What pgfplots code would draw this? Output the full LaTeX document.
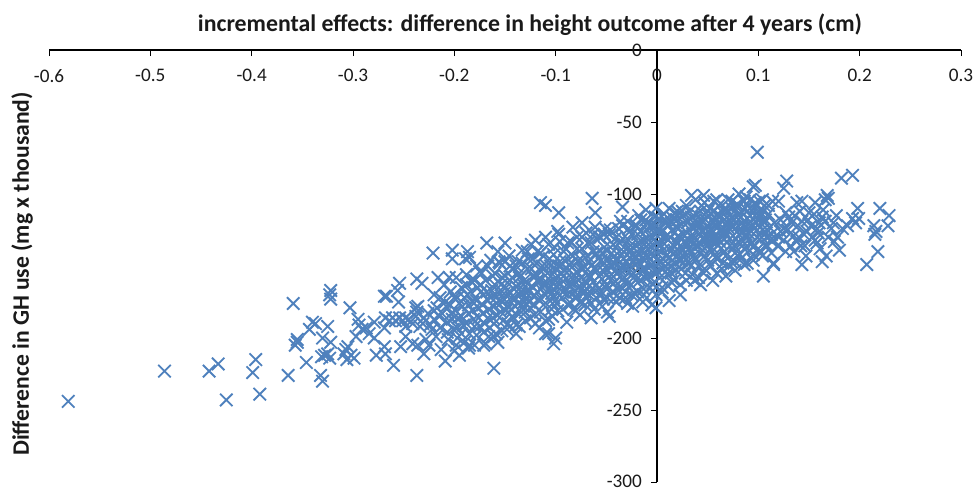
\documentclass[border=0pt]{standalone}
\usepackage{pgfplots}
\pgfplotsset{compat=1.18}
\usepackage{fontspec}
\setmainfont{Carlito}
\definecolor{mk}{HTML}{4F81BD}
\definecolor{tx}{HTML}{1A1A1A}
\pgfplotstableread{
x y
-0.581 -244
-0.486 -223
-0.442 -223
-0.433 -218
-0.425 -243
-0.399 -224
-0.396 -215
-0.392 -239
-0.364 -226
-0.359 -176
-0.346 -217
-0.355 -203
-0.357 -205
-0.355 -201
-0.322 -167
-0.322 -173
-0.323 -170
-0.303 -179
-0.340 -189
-0.337 -190
-0.343 -194
-0.325 -192
-0.330 -200
-0.322 -203
-0.328 -212
-0.331 -213
-0.325 -211
-0.323 -214
-0.332 -226
-0.330 -230
-0.307 -208
-0.305 -206
-0.309 -211
-0.302 -212
-0.306 -215
-0.299 -214
-0.295 -187
-0.294 -191
-0.297 -199
-0.291 -194
-0.287 -193
-0.279 -189
-0.284 -197
-0.277 -212
-0.269 -206
-0.268 -211
-0.260 -219
-0.279 -200
-0.269 -171
-0.267 -171
-0.254 -162
-0.256 -167
-0.255 -175
-0.237 -159
-0.232 -162
-0.221 -141
-0.237 -226
-0.253 -206
-0.268 -186
-0.264 -188
-0.261 -186
-0.258 -188
-0.254 -186
-0.251 -188
-0.248 -186
-0.269 -193
-0.248 -192
-0.248 -199
-0.241 -204
-0.236 -205
-0.230 -211
-0.238 -179
-0.236 -178
-0.237 -182
-0.220 -170
-0.231 -190
-0.220 -181
-0.222 -194
-0.218 -199
-0.225 -205
-0.228 -201
-0.202 -139
-0.202 -145
-0.187 -140
-0.189 -145
-0.185 -144
-0.168 -134
-0.150 -134
-0.157 -140
-0.161 -221
-0.209 -216
-0.186 -207
-0.197 -200
-0.115 -106
-0.110 -108
-0.097 -113
-0.064 -103
-0.034 -109
-0.061 -113
-0.098 -126
-0.100 -200
-0.107 -197
-0.102 -204
-0.120 -132
-0.083 -123
-0.074 -120
-0.051 -124
-0.036 -119
-0.018 -115
-0.011 -111
-0.001 -110
0.012 -110
0.018 -113
-0.047 -185
-0.065 -186
-0.080 -181
-0.029 -176
-0.014 -175
-0.024 -178
-0.103 -185
-0.139 -197
-0.110 -197
-0.161 -199
-0.169 -204
-0.005 -177
-0.001 -179
-0.001 -170
0.012 -174
0.043 -163
0.034 -101
0.046 -101
0.059 -104
0.081 -100
0.095 -95
0.097 -94
0.099 -71
0.105 -157
0.115 -148
0.128 -91
0.125 -96
0.182 -89
0.193 -87
0.198 -110
0.220 -110
0.229 -115
0.228 -122
0.214 -122
0.216 -126
0.215 -128
0.218 -140
0.207 -149
0.180 -139
0.163 -147
0.167 -143
0.143 -149
0.147 -143
0.115 -149
0.199 -117
0.196 -120
0.193 -117
0.183 -124
0.188 -122
0.178 -130
0.175 -133
0.168 -101
0.169 -103
0.166 -104
0.156 -106
0.143 -105
0.138 -106
0.163 -116
0.166 -119
0.160 -120
0.153 -130
0.156 -132
0.158 -134
0.140 -130
0.138 -133
0.133 -120
0.130 -116
0.127 -113
0.120 -105
0.114 -105
0.120 -130
0.127 -140
0.115 -132
0.135 -129
0.143 -119
0.148 -126
0.164 -111
0.150 -113
0.141 -112
0.172 -124
0.158 -124
0.146 -136
0.135 -140
0.125 -124
0.122 -118
-0.216 -158
-0.214 -172
-0.215 -185
-0.213 -208
-0.210 -163
-0.208 -178
-0.207 -189
-0.206 -201
-0.204 -168
-0.203 -183
-0.201 -194
-0.200 -209
-0.198 -158
-0.197 -172
-0.196 -186
-0.195 -212
-0.193 -165
-0.192 -178
-0.191 -191
-0.190 -203
-0.188 -156
-0.187 -170
-0.186 -183
-0.185 -197
-0.183 -161
-0.182 -175
-0.181 -187
-0.180 -205
-0.178 -150
-0.177 -165
-0.176 -179
-0.175 -192
-0.174 -168
-0.173 -155
-0.172 -183
-0.171 -196
-0.169 -160
-0.168 -173
-0.167 -186
-0.166 -199
-0.164 -146
-0.163 -167
-0.162 -178
-0.161 -190
-0.160 -155
-0.159 -172
-0.158 -184
-0.157 -203
-0.155 -148
-0.154 -163
-0.153 -175
-0.152 -188
-0.151 -169
-0.150 -157
-0.149 -181
-0.148 -194
-0.146 -143
-0.145 -160
-0.144 -172
-0.143 -185
-0.142 -152
-0.141 -166
-0.140 -178
-0.139 -191
-0.137 -147
-0.136 -158
-0.135 -170
-0.134 -182
-0.133 -139
-0.132 -163
-0.131 -175
-0.130 -188
-0.128 -152
-0.127 -145
-0.126 -167
-0.125 -179
-0.124 -135
-0.123 -157
-0.122 -171
-0.121 -184
-0.119 -148
-0.118 -160
-0.117 -173
-0.116 -193
-0.115 -141
-0.114 -154
-0.113 -165
-0.112 -177
-0.110 -130
-0.109 -150
-0.108 -162
-0.107 -187
-0.106 -145
-0.105 -157
-0.104 -169
-0.103 -176
-0.101 -137
-0.100 -152
-0.099 -164
-0.098 -181
-0.097 -128
-0.096 -147
-0.095 -159
-0.094 -172
-0.092 -140
-0.091 -153
-0.090 -166
-0.089 -189
-0.088 -134
-0.087 -149
-0.086 -161
-0.085 -176
-0.083 -143
-0.082 -156
-0.081 -168
-0.080 -171
-0.079 -130
-0.078 -147
-0.077 -160
-0.076 -184
-0.074 -138
-0.073 -152
-0.072 -164
-0.071 -177
-0.070 -127
-0.069 -143
-0.068 -156
-0.067 -170
-0.065 -134
-0.064 -149
-0.063 -161
-0.062 -180
-0.061 -123
-0.060 -141
-0.059 -153
-0.058 -166
-0.056 -130
-0.055 -146
-0.054 -159
-0.053 -173
-0.052 -137
-0.051 -151
-0.050 -163
-0.049 -182
-0.047 -128
-0.046 -142
-0.045 -156
-0.044 -168
-0.043 -135
-0.042 -148
-0.041 -161
-0.040 -175
-0.038 -124
-0.037 -140
-0.036 -153
-0.035 -165
-0.034 -131
-0.033 -145
-0.032 -158
-0.031 -172
-0.029 -119
-0.028 -137
-0.027 -150
-0.026 -163
-0.025 -128
-0.024 -143
-0.023 -155
-0.022 -169
-0.020 -122
-0.019 -134
-0.018 -147
-0.017 -160
-0.016 -126
-0.015 -140
-0.014 -152
-0.013 -166
-0.011 -118
-0.010 -131
-0.009 -144
-0.008 -157
-0.007 -122
-0.006 -137
-0.005 -149
-0.004 -162
-0.002 -116
-0.001 -128
0.000 -141
0.001 -154
0.002 -124
0.003 -135
0.004 -147
0.005 -165
0.007 -114
0.008 -130
0.009 -143
0.010 -156
0.011 -121
0.012 -138
0.013 -150
0.014 -161
0.016 -117
0.017 -127
0.018 -140
0.019 -153
0.020 -123
0.021 -134
0.022 -146
0.023 -170
0.025 -112
0.026 -128
0.027 -141
0.028 -155
0.029 -108
0.030 -120
0.031 -135
0.032 -148
0.034 -116
0.035 -130
0.036 -143
0.037 -160
0.038 -104
0.039 -122
0.040 -136
0.041 -150
0.043 -112
0.044 -126
0.045 -139
0.046 -155
0.047 -106
0.048 -118
0.049 -132
0.050 -146
0.052 -110
0.053 -124
0.054 -137
0.055 -160
0.056 -105
0.057 -116
0.058 -129
0.059 -143
0.061 -108
0.062 -121
0.063 -134
0.064 -152
0.065 -113
0.066 -126
0.067 -140
0.068 -157
0.070 -104
0.071 -118
0.072 -131
0.073 -147
0.074 -110
0.075 -123
0.076 -136
0.077 -153
0.079 -107
0.080 -115
0.081 -128
0.082 -142
0.083 -112
0.084 -120
0.085 -133
0.086 -149
0.088 -102
0.089 -117
0.090 -127
0.091 -139
0.092 -110
0.093 -122
0.094 -134
0.095 -146
0.097 -106
0.098 -116
0.099 -125
0.100 -138
0.101 -112
0.102 -120
0.103 -130
0.104 -143
0.106 -108
0.107 -118
0.108 -127
0.109 -136
0.110 -114
0.111 -123
0.112 -132
0.113 -141
}\ptsA
\pgfplotstableread{
x y
-0.245 -187
-0.241 -190
-0.238 -185
-0.234 -192
-0.230 -186
-0.226 -183
-0.224 -191
-0.220 -187
-0.217 -179
-0.214 -193
-0.212 -183
-0.209 -175
-0.207 -196
-0.204 -177
-0.202 -187
-0.199 -181
-0.197 -193
-0.195 -176
-0.193 -185
-0.190 -172
-0.188 -190
-0.186 -177
-0.184 -168
-0.182 -181
-0.180 -192
-0.178 -174
-0.176 -186
-0.174 -163
-0.172 -177
-0.170 -190
-0.168 -168
-0.166 -180
-0.164 -172
-0.162 -186
-0.160 -163
-0.158 -176
-0.156 -168
-0.154 -182
-0.153 -158
-0.151 -173
-0.149 -165
-0.147 -178
-0.146 -168
-0.144 -180
-0.143 -158
-0.141 -172
-0.139 -164
-0.137 -176
-0.136 -155
-0.134 -168
-0.132 -178
-0.131 -160
-0.129 -172
-0.127 -162
-0.126 -175
-0.124 -152
-0.122 -165
-0.121 -177
-0.119 -156
-0.118 -168
-0.116 -160
-0.114 -173
-0.113 -150
-0.111 -162
-0.110 -170
-0.108 -155
-0.107 -166
-0.105 -150
-0.103 -162
-0.102 -172
-0.100 -158
-0.099 -168
-0.097 -150
-0.096 -163
-0.094 -155
-0.093 -168
-0.091 -146
-0.090 -159
-0.088 -170
-0.087 -153
-0.085 -164
-0.084 -148
-0.082 -160
-0.081 -172
-0.079 -154
-0.078 -165
-0.076 -145
-0.075 -158
-0.073 -168
-0.072 -150
-0.070 -161
-0.069 -172
-0.067 -147
-0.066 -157
-0.064 -166
-0.063 -140
-0.061 -152
-0.060 -163
-0.058 -145
-0.057 -157
-0.055 -170
-0.054 -141
-0.052 -154
-0.051 -165
-0.049 -146
-0.048 -158
-0.046 -137
-0.045 -150
-0.043 -162
-0.042 -143
-0.040 -155
-0.039 -166
-0.037 -134
-0.036 -147
-0.034 -159
-0.033 -140
-0.031 -152
-0.030 -163
-0.028 -132
-0.027 -144
-0.025 -156
-0.024 -137
-0.022 -149
-0.021 -160
-0.019 -128
-0.018 -141
-0.016 -153
-0.015 -133
-0.013 -146
-0.012 -158
-0.010 -125
-0.009 -138
-0.007 -150
-0.006 -130
-0.004 -143
-0.003 -155
-0.001 -122
0.000 -134
0.002 -147
0.003 -158
0.005 -126
0.006 -139
0.008 -150
0.009 -120
0.011 -132
0.012 -144
0.014 -155
0.015 -125
0.017 -136
0.018 -148
0.020 -118
0.021 -129
0.023 -141
0.024 -152
0.026 -120
0.027 -133
0.029 -145
0.030 -127
0.032 -138
0.033 -150
0.035 -122
0.036 -134
0.038 -146
0.039 -114
0.041 -128
0.042 -141
0.044 -119
0.045 -131
0.047 -143
0.048 -124
0.050 -136
0.051 -115
0.053 -128
0.054 -140
0.056 -120
0.057 -133
0.059 -145
0.060 -114
0.062 -126
0.063 -138
0.065 -119
0.066 -131
0.068 -143
0.069 -112
0.071 -124
0.072 -136
0.074 -117
0.075 -129
0.077 -141
0.078 -111
0.080 -122
0.081 -134
0.083 -116
0.084 -127
0.086 -138
0.087 -110
0.089 -121
0.090 -132
0.092 -115
0.093 -126
0.095 -137
0.096 -110
0.098 -120
0.099 -130
0.101 -105
0.102 -116
0.104 -125
0.105 -112
0.106 -120
0.108 -130
-0.130 -168
-0.115 -166
-0.095 -150
-0.075 -152
-0.065 -150
-0.052 -148
-0.040 -145
-0.030 -147
-0.020 -144
-0.010 -142
0.000 -138
0.006 -145
0.016 -142
0.025 -138
0.035 -128
0.045 -125
0.055 -130
0.065 -125
0.075 -122
0.085 -122
-0.044 -150
-0.034 -152
-0.026 -140
-0.017 -138
-0.008 -135
0.003 -128
0.013 -130
0.022 -130
0.031 -132
0.040 -120
0.049 -130
0.058 -122
0.067 -128
0.076 -118
0.088 -128
-0.012 -152
-0.003 -148
0.006 -152
0.015 -146
0.024 -146
0.033 -140
0.043 -135
0.052 -132
0.061 -132
0.070 -120
}\ptsB
\pgfplotstableread{
x y
-0.205 -158
-0.200 -172
-0.198 -205
-0.193 -197
-0.188 -163
-0.185 -205
-0.180 -160
-0.178 -198
-0.175 -154
-0.171 -205
-0.167 -150
-0.165 -193
-0.162 -157
-0.159 -197
-0.156 -147
-0.153 -195
-0.150 -147
-0.147 -190
-0.145 -150
-0.142 -186
-0.139 -150
-0.136 -192
-0.133 -148
-0.130 -182
-0.128 -140
-0.125 -186
-0.123 -145
-0.120 -190
-0.118 -140
-0.115 -182
-0.112 -143
-0.110 -188
-0.107 -135
-0.104 -180
-0.102 -142
-0.099 -176
-0.096 -133
-0.093 -180
-0.090 -138
-0.088 -177
-0.085 -133
-0.082 -180
-0.079 -138
-0.076 -175
-0.074 -130
-0.071 -168
-0.068 -134
-0.065 -176
-0.063 -128
-0.060 -172
-0.057 -130
-0.054 -178
-0.052 -128
-0.049 -172
-0.046 -125
-0.043 -173
-0.040 -130
-0.037 -172
-0.034 -122
-0.031 -168
-0.028 -124
-0.025 -170
-0.022 -122
-0.019 -168
-0.016 -118
-0.013 -170
-0.010 -120
-0.007 -165
-0.004 -122
-0.001 -165
0.002 -117
0.005 -168
0.008 -118
0.011 -164
0.014 -120
0.017 -160
0.020 -112
0.023 -163
0.026 -115
0.029 -160
0.032 -112
0.035 -156
0.038 -118
0.041 -158
0.044 -108
0.047 -152
0.050 -112
0.053 -150
0.056 -112
0.059 -155
0.062 -115
0.065 -148
0.068 -110
0.071 -150
0.074 -105
0.077 -147
0.080 -108
0.083 -145
0.086 -105
0.089 -148
0.092 -104
0.095 -142
0.098 -108
0.101 -140
0.104 -104
0.107 -136
0.110 -108
0.113 -128
0.116 -120
0.119 -136
0.122 -126
0.125 -132
0.129 -125
0.132 -136
0.136 -115
0.139 -122
0.142 -136
0.145 -128
0.149 -118
0.152 -122
0.155 -114
0.159 -127
0.161 -138
0.169 -130
0.174 -120
0.177 -115
}\ptsC
\begin{document}
\begin{tikzpicture}[x=1pt,y=1pt]
\path[use as bounding box] (-24.5,-3) rectangle (462.5,241);
\begin{axis}[
  at={(0,0)},anchor=south west,
  scale only axis,width=456pt,height=216pt,
  xmin=-0.6,xmax=0.3,ymin=-300,ymax=0,
  axis lines=middle,
  axis line style={-,black,line width=0.8pt},
  hide obscured x ticks=false,hide obscured y ticks=false,
  xtick={-0.6,-0.5,-0.4,-0.3,-0.2,-0.1,0,0.1,0.2,0.3},
  ytick={0,-50,-100,-150,-200,-250,-300},
  xticklabels={-0.6,-0.5,-0.4,-0.3,-0.2,-0.1,0,0.1,0.2,0.3},
  yticklabels={0,-50,-100,-150,-200,-250,\raisebox{1pt}{-300}},
  tick style={black,line width=0.4pt},
  major tick length=3pt,
  tick align=outside,
  xticklabel style={font=\fontsize{9.6}{11}\selectfont,text=tx,anchor=north,yshift=-3.2pt},
  yticklabel style={font=\fontsize{9.6}{11}\selectfont,text=tx,anchor=east,xshift=-1pt},
  clip=false,
]
\addplot[only marks,mark=x,mark size=4.4pt,color=mk,mark options={line width=0.95pt,color=mk}] table[x=x,y=y] {\ptsA};
\addplot[only marks,mark=x,mark size=4.4pt,color=mk,mark options={line width=0.95pt,color=mk}] table[x=x,y=y] {\ptsB};
\addplot[only marks,mark=x,mark size=4.4pt,color=mk,mark options={line width=0.95pt,color=mk}] table[x=x,y=y] {\ptsC};
\end{axis}
\node[font=\fontsize{11.9}{14}\selectfont\bfseries,text=tx] at (240.5,228.5) {incremental effects: difference in height outcome after 4 years (cm)};
\node[font=\fontsize{11.8}{14}\selectfont\bfseries,text=tx,rotate=90] at (-13.5,104) {Difference in GH use (mg x thousand)};
\end{tikzpicture}
\end{document}
